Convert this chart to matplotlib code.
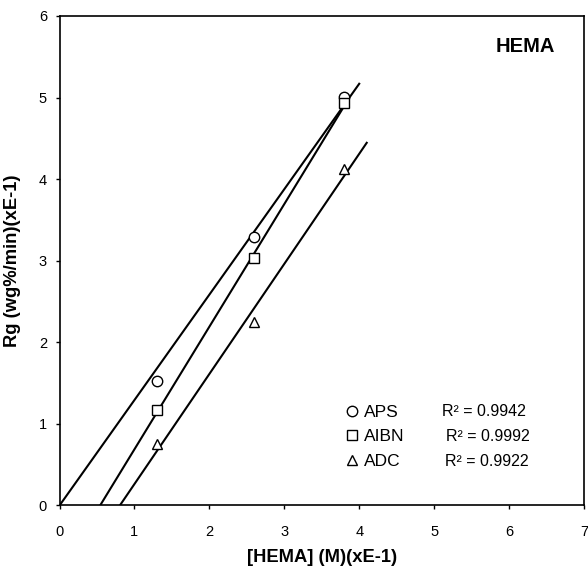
import numpy as np
import matplotlib
matplotlib.use("Agg")
import matplotlib.pyplot as plt
from matplotlib.lines import Line2D

plt.rcParams["font.family"] = ["Liberation Sans", "DejaVu Sans"]

# --- data: polymerization rate vs monomer concentration ---
conc = np.array([1.3, 2.6, 3.8])          # [HEMA] (M)(xE-1)
rate_aps = np.array([1.53, 3.29, 5.01])   # Rg, APS initiator
rate_aibn = np.array([1.17, 3.03, 4.93])  # Rg, AIBN initiator
rate_adc = np.array([0.75, 2.25, 4.13])   # Rg, ADC initiator

names = ["APS", "AIBN", "ADC"]
r2_values = ["0.9942", "0.9992", "0.9922"]
markers = ["o", "s", "^"]

# trendline extents (right end of each line)
x_end = [4.0, 3.85, 4.1]

# --- figure ---
fig = plt.figure(figsize=(5.88, 5.69), dpi=100)
ax = fig.add_axes([0.1012, 0.1116, 0.892, 0.8603])

series = [rate_aps, rate_aibn, rate_adc]
handles = []
for i, (y, m) in enumerate(zip(series, markers)):
    if i == 0:
        # APS trendline forced through the origin
        slope = np.sum(conc * y) / np.sum(conc ** 2)
        icpt = 0.0
    else:
        slope, icpt = np.polyfit(conc, y, 1)
    x0 = max(0.0, -icpt / slope)
    xs = np.array([x0, x_end[i]])
    ax.plot(xs, slope * xs + icpt, color="black", lw=1.5, zorder=2)
    ax.plot(conc, y, linestyle="none", marker=m, markersize=7.5,
            markerfacecolor="white", markeredgecolor="black",
            markeredgewidth=1.0, zorder=3)
    handles.append(Line2D([], [], linestyle="none", marker=m, markersize=7.5,
                          markerfacecolor="white", markeredgecolor="black",
                          markeredgewidth=1.0))

ax.set_xlim(0, 7)
ax.set_ylim(0, 6)
ax.set_xticks(range(0, 8))
ax.set_yticks(range(0, 7))

for s in ax.spines.values():
    s.set_linewidth(1.2)
ax.tick_params(axis="both", direction="out", length=3, width=1.0,
               labelsize=10.5)
ax.tick_params(axis="x", pad=11)
ax.tick_params(axis="y", pad=6)

ax.set_xlabel("[HEMA] (M)(xE-1)", fontsize=13.2, fontweight="bold")
ax.set_ylabel("Rg (wg%/min)(xE-1)", fontsize=13.2, fontweight="bold")
ax.xaxis.set_label_coords(0.5, -0.107)
ax.xaxis.label.set_va("center")
ax.yaxis.set_label_coords(-0.089, 0.5)
ax.yaxis.label.set_va("center")

ax.text(0.945, 0.937, "HEMA", transform=ax.transAxes, ha="right",
        va="center", fontsize=14.5, fontweight="bold")

# legend with R² values to its right
leg = ax.legend(handles, names, loc="upper left",
                bbox_to_anchor=(0.541, 0.206), frameon=False,
                fontsize=12.5, handlelength=1.0, handletextpad=0.2,
                labelspacing=0.54, borderpad=0, borderaxespad=0)

row_y = [0.1916, 0.1406, 0.0895]
row_x = [0.730, 0.737, 0.735]
for rx, ry, r2 in zip(row_x, row_y, r2_values):
    ax.text(rx, ry, "R² = " + r2, transform=ax.transAxes,
            ha="left", va="center", fontsize=11.5)

fig.savefig("out.png", dpi=100)
